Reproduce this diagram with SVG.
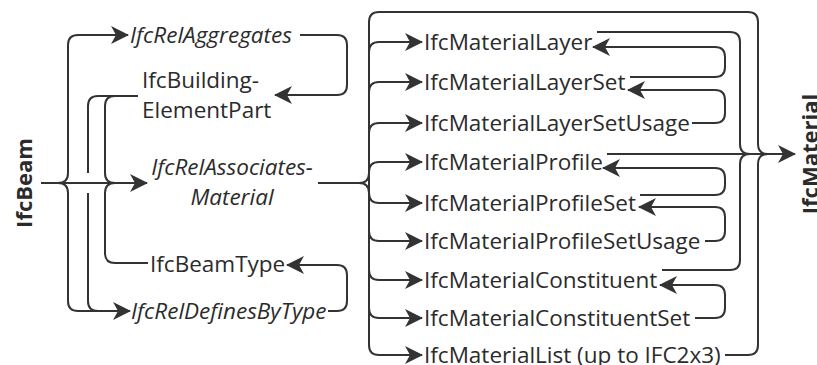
<svg xmlns="http://www.w3.org/2000/svg" width="817" height="365" viewBox="0 0 817 365">
<style>
text{font-family:"Open Sans","Noto Sans","DejaVu Sans",sans-serif;font-size:22.5px;fill:#2b2b2b}
.it{font-style:italic}
.b{font-weight:bold;font-size:22px}
.c{fill:none;stroke:#333;stroke-width:2}
.a{marker-end:url(#arr)}
</style>
<defs>
<marker id="arr" viewBox="-19 -10 21 20" markerWidth="21" markerHeight="20" refX="0" refY="0" orient="auto" markerUnits="userSpaceOnUse">
<path d="M1,0 L-17,-9 L-12,0 L-17,9 Z" fill="#333"/>
</marker>
</defs>
<rect width="817" height="365" fill="#fff"/>
<g id="connectors">
<path class="c a" d="M41,183 H147"/>
<path class="c a" d="M58,183 Q68,183 68,173 V45 Q68,35 78,35 H128"/>
<path class="c a" d="M58,183 Q68,183 68,193 V301 Q68,311 78,311 H130"/>
<path class="c" d="M138,96 H98 Q88,96 88,106 V173 M88,193 V301 Q88,311 98,311 H110"/>
<path class="c" d="M138,96 H115 Q105,96 105,106 V173 Q105,183 115,183"/>
<path class="c" d="M148,263 H115 Q105,263 105,253 V193 Q105,183 115,183"/>
<path class="c a" d="M300,35 H337 Q347,35 347,45 V85 Q347,95 337,95 H275"/>
<path class="c a" d="M328,311 H337 Q347,311 347,301 V275 Q347,265 337,265 H287"/>
<path class="c" d="M318,183 H359 Q369,183 369,173 M359,183 Q369,183 369,193 M369,22 V345"/>
<path class="c" d="M369,22 Q369,12 379,12 H748 Q758,12 758,22 V144 Q758,154 768,154"/>
<path class="c a" d="M369,52 Q369,42 379,42 H422"/>
<path class="c a" d="M369,92 Q369,82 379,82 H422"/>
<path class="c a" d="M369,133 Q369,123 379,123 H422"/>
<path class="c a" d="M369,172 Q369,162 379,162 H422"/>
<path class="c a" d="M369,193 Q369,203 379,203 H422"/>
<path class="c a" d="M369,231 Q369,241 379,241 H422"/>
<path class="c a" d="M369,270 Q369,280 379,280 H422"/>
<path class="c a" d="M369,308 Q369,318 379,318 H422"/>
<path class="c a" d="M369,345 Q369,355 379,355 H422"/>
<path class="c" d="M597,32 H730 Q740,32 740,42 V144 Q740,154 750,154"/>
<path class="c" d="M662,270 H730 Q740,270 740,260 V164 Q740,154 750,154"/>
<path class="c" d="M725,355 H748 Q758,355 758,345 V164 Q758,154 768,154"/>
<path class="c a" d="M607,154 H795"/>
<path class="c a" d="M630,77 H715 Q725,77 725,67 V57 Q725,47 715,47 H593"/>
<path class="c a" d="M692,123 H715 Q725,123 725,113 V100 Q725,90 715,90 H628"/>
<path class="c a" d="M640,195 H715 Q725,195 725,185 V178 Q725,168 715,168 H603"/>
<path class="c a" d="M705,241 H715 Q725,241 725,231 V217 Q725,207 715,207 H639"/>
<path class="c a" d="M695,318 H715 Q725,318 725,308 V295 Q725,285 715,285 H660"/>
</g>
<g id="IfcBeam"><text class="b" text-anchor="middle" transform="translate(32,183) rotate(-90)">IfcBeam</text></g>
<g id="IfcRelAggregates"><text class="it" x="130" y="43">IfcRelAggregates</text></g>
<g id="IfcBuildingElementPart"><text x="142" y="88">IfcBuilding-</text><text x="142" y="118">ElementPart</text></g>
<g id="IfcRelAssociatesMaterial"><text class="it" text-anchor="middle" x="232" y="175">IfcRelAssociates-</text><text class="it" text-anchor="middle" x="232" y="205">Material</text></g>
<g id="IfcBeamType"><text x="150" y="272">IfcBeamType</text></g>
<g id="IfcRelDefinesByType"><text class="it" x="131" y="319">IfcRelDefinesByType</text></g>
<g id="IfcMaterialLayer"><text x="424" y="50">IfcMaterialLayer</text></g>
<g id="IfcMaterialLayerSet"><text x="424" y="90">IfcMaterialLayerSet</text></g>
<g id="IfcMaterialLayerSetUsage"><text x="424" y="131">IfcMaterialLayerSetUsage</text></g>
<g id="IfcMaterialProfile"><text x="424" y="170">IfcMaterialProfile</text></g>
<g id="IfcMaterialProfileSet"><text x="424" y="211">IfcMaterialProfileSet</text></g>
<g id="IfcMaterialProfileSetUsage"><text x="424" y="249">IfcMaterialProfileSetUsage</text></g>
<g id="IfcMaterialConstituent"><text x="424" y="288">IfcMaterialConstituent</text></g>
<g id="IfcMaterialConstituentSet"><text x="424" y="326">IfcMaterialConstituentSet</text></g>
<g id="IfcMaterialList"><text x="424" y="363">IfcMaterialList (up to IFC2x3)</text></g>
<g id="IfcMaterial"><text class="b" text-anchor="middle" transform="translate(818,154) rotate(-90)">IfcMaterial</text></g>
</svg>
